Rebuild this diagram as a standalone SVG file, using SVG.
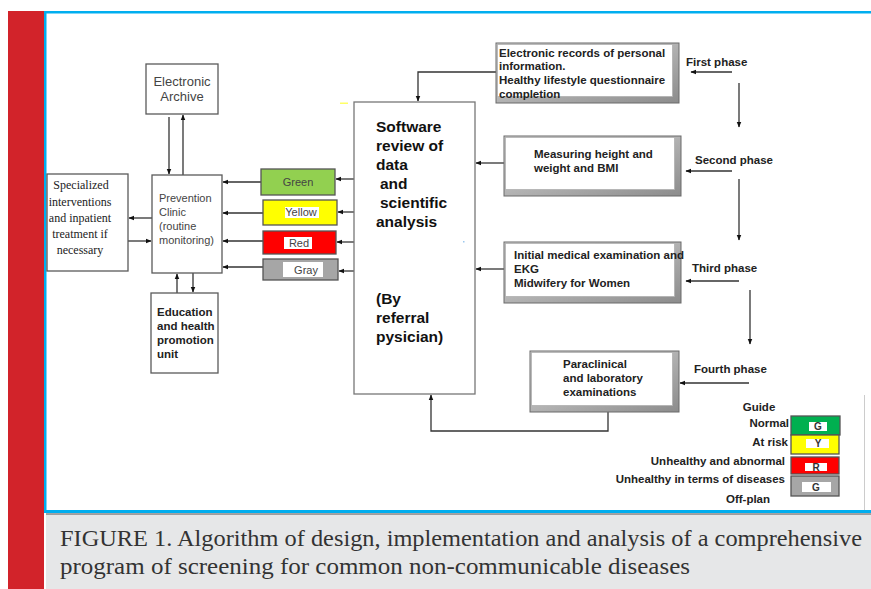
<svg xmlns="http://www.w3.org/2000/svg" width="871" height="589" viewBox="0 0 871 589">
<style>
.box{fill:#fff;stroke:#5a5a5a;stroke-width:1.3}
.bev{fill:url(#bevg);stroke:#6a6a6a;stroke-width:1}
.bevin{fill:#fff;stroke:#b0b0b0;stroke-width:0.8}
.ln{fill:none;stroke:#333;stroke-width:1.3}
.lnh{fill:none;stroke:#333;stroke-width:1.3;marker-end:url(#ah)}
.sans{font-family:"Liberation Sans",Arial,sans-serif}
.t1{font-family:"Liberation Sans",Arial,sans-serif;font-size:11px;fill:#444}
.tb{font-family:"Liberation Sans",Arial,sans-serif;font-size:11.5px;font-weight:bold;fill:#222}
.ts{font-family:"Liberation Serif","Times New Roman",serif;font-size:12px;fill:#222;text-anchor:middle}
.tsw{font-family:"Liberation Sans",Arial,sans-serif;font-size:15.5px;font-weight:bold;fill:#111}
.tl{font-family:"Liberation Sans",Arial,sans-serif;font-size:10px;font-weight:bold;fill:#333;text-anchor:middle}
.cap{font-family:"Liberation Serif","Times New Roman",serif;font-size:24px;fill:#333}
</style>
<defs>
<marker id="ah" viewBox="0 0 10 10" refX="9" refY="5" markerWidth="6" markerHeight="6" markerUnits="userSpaceOnUse" orient="auto">
<path d="M0,1 L10,5 L0,9 Z" fill="#111"/>
</marker>
<linearGradient id="bevg" x1="0" y1="0" x2="1" y2="1">
<stop offset="0" stop-color="#d8d8d8"/>
<stop offset="1" stop-color="#8c8c8c"/>
</linearGradient>
</defs>

<!-- frame -->
<rect x="0" y="0" width="871" height="589" fill="#fff"/>
<rect x="8" y="11" width="36" height="578" fill="#d2232a"/>
<rect x="44" y="11" width="827" height="2.5" fill="#00aeef"/>
<rect x="44" y="11" width="2.5" height="502" fill="#00aeef"/>
<rect x="44" y="510" width="827" height="3" fill="#00aeef"/>
<rect x="46" y="513.5" width="825" height="75.5" fill="#e6e7e8"/>
<line x1="46" y1="514" x2="871" y2="514" stroke="#555" stroke-width="1"/>
<line x1="864.5" y1="395" x2="864.5" y2="510" stroke="#ccc" stroke-width="1"/>
<rect x="340" y="102.5" width="8" height="1.5" fill="#ffff66"/>

<g id="caption">
<text class="cap" x="60" y="546" textLength="802" lengthAdjust="spacingAndGlyphs">FIGURE 1. Algorithm of design, implementation and analysis of a comprehensive</text>
<text class="cap" x="60" y="574" textLength="630" lengthAdjust="spacingAndGlyphs">program of screening for common non-communicable diseases</text>
</g>

<g id="connectors">
<line class="lnh" x1="169" y1="117" x2="169" y2="174"/>
<line class="lnh" x1="183" y1="175" x2="183" y2="115"/>
<line class="lnh" x1="152" y1="218" x2="129" y2="218"/>
<line class="lnh" x1="128" y1="241" x2="151" y2="241"/>
<line class="lnh" x1="177" y1="293" x2="177" y2="274"/>
<line class="lnh" x1="193" y1="273" x2="193" y2="292"/>
<line class="lnh" x1="261" y1="182" x2="223" y2="182"/>
<line class="lnh" x1="263" y1="213" x2="223" y2="213"/>
<line class="lnh" x1="263" y1="241" x2="223" y2="241"/>
<line class="lnh" x1="263" y1="267" x2="223" y2="267"/>
<line class="lnh" x1="354" y1="179" x2="336" y2="179"/>
<line class="lnh" x1="354" y1="212" x2="338" y2="212"/>
<line class="lnh" x1="354" y1="242" x2="337" y2="242"/>
<line class="lnh" x1="354" y1="271" x2="339" y2="271"/>
<polyline class="lnh" points="496,72 418,72 418,101"/>
<line class="lnh" x1="504" y1="163" x2="476" y2="163"/>
<line class="lnh" x1="504" y1="269" x2="476" y2="269"/>
<polyline class="lnh" points="608,412 608,431 431,431 431,395"/>
<line class="lnh" x1="732" y1="72" x2="691" y2="72"/>
<line class="lnh" x1="739" y1="83" x2="739" y2="127"/>
<line class="lnh" x1="732" y1="171" x2="686" y2="171"/>
<line class="lnh" x1="739" y1="179" x2="739" y2="240"/>
<line class="lnh" x1="739" y1="281" x2="686" y2="281"/>
<line class="lnh" x1="750" y1="290" x2="750" y2="344"/>
<line class="lnh" x1="749" y1="383" x2="680" y2="383"/>
</g>

<g id="archive">
<rect class="box" x="146" y="64" width="72" height="50"/>
<text class="sans" x="182" y="86" font-size="13" fill="#444" text-anchor="middle">Electronic</text>
<text class="sans" x="182" y="101" font-size="13" fill="#444" text-anchor="middle">Archive</text>
</g>

<g id="prevention">
<rect class="box" x="152" y="175" width="70" height="98"/>
<text class="t1" x="159" y="202">Prevention</text>
<text class="t1" x="159" y="216">Clinic</text>
<text class="t1" x="159" y="230">(routine</text>
<text class="t1" x="159" y="244">monitoring)</text>
</g>

<g id="specialized">
<rect class="box" x="47" y="174" width="81" height="97"/>
<text class="ts" x="81" y="189">Specialized</text>
<text class="ts" x="80" y="206">interventions</text>
<text class="ts" x="80" y="222">and inpatient</text>
<text class="ts" x="80" y="238">treatment if</text>
<text class="ts" x="80" y="254">necessary</text>
</g>

<g id="education">
<rect class="box" x="151" y="293" width="67" height="80"/>
<text class="tb" x="157" y="316">Education</text>
<text class="tb" x="157" y="330">and health</text>
<text class="tb" x="157" y="344">promotion</text>
<text class="tb" x="157" y="358">unit</text>
</g>

<g id="green">
<rect x="261" y="169" width="74" height="26" fill="#92d050" stroke="#555" stroke-width="1.3"/>
<text class="t1" x="298" y="186" text-anchor="middle" fill="#333">Green</text>
</g>
<g id="yellow">
<rect x="263" y="200" width="74" height="25" fill="#ffff00" stroke="#555" stroke-width="1.3"/>
<rect x="285" y="207" width="34" height="11" fill="#fff"/>
<text class="t1" x="301" y="216" text-anchor="middle" fill="#333">Yellow</text>
</g>
<g id="red">
<rect x="263" y="231" width="73" height="23" fill="#ff0000" stroke="#555" stroke-width="1.3"/>
<rect x="284" y="237" width="28" height="12" fill="#fff"/>
<text class="t1" x="299" y="247" text-anchor="middle" fill="#333">Red</text>
</g>
<g id="gray">
<rect x="263" y="259" width="75" height="21" fill="#a6a6a6" stroke="#555" stroke-width="1.3"/>
<rect x="283" y="262" width="40" height="15" fill="#fff"/>
<text class="t1" x="306" y="274" text-anchor="middle" fill="#333">Gray</text>
</g>

<g id="software">
<rect x="354" y="102" width="121" height="292" fill="#fff" stroke="#777" stroke-width="1.3"/>
<text class="tsw" x="376" y="132">Software</text>
<text class="tsw" x="376" y="151">review of</text>
<text class="tsw" x="376" y="170">data</text>
<text class="tsw" x="380" y="189">and</text>
<text class="tsw" x="380" y="208">scientific</text>
<text class="tsw" x="376" y="227">analysis</text>
<text class="tsw" x="376" y="304">(By</text>
<text class="tsw" x="376" y="323">referral</text>
<text class="tsw" x="376" y="342">pysician)</text>
<rect x="463" y="241" width="1.5" height="1.5" fill="#9cc8ee"/>
</g>

<g id="records">
<rect class="bev" x="496" y="43" width="183" height="60"/>
<rect class="bevin" x="497.5" y="44.5" width="175" height="52"/>
<text class="tb" x="499" y="57">Electronic records of personal</text>
<text class="tb" x="499" y="70">information.</text>
<text class="tb" x="499" y="84">Healthy lifestyle questionnaire</text>
<text class="tb" x="499" y="98">completion</text>
</g>

<g id="measuring">
<rect class="bev" x="504" y="136" width="177" height="60"/>
<rect class="bevin" x="505.5" y="137.5" width="169" height="52"/>
<text class="tb" x="534" y="158">Measuring height and</text>
<text class="tb" x="534" y="172">weight and BMI</text>
</g>

<g id="initial">
<rect class="bev" x="504" y="242" width="177" height="61"/>
<rect class="bevin" x="505.5" y="243.5" width="169" height="53"/>
<text class="tb" x="514" y="259">Initial medical examination and</text>
<text class="tb" x="514" y="273">EKG</text>
<text class="tb" x="514" y="287">Midwifery for Women</text>
</g>

<g id="paraclinical">
<rect class="bev" x="530" y="351" width="149" height="61"/>
<rect class="bevin" x="531.5" y="352.5" width="141" height="53"/>
<text class="tb" x="563" y="368">Paraclinical</text>
<text class="tb" x="563" y="382">and laboratory</text>
<text class="tb" x="563" y="396">examinations</text>
</g>

<g id="phases">
<text class="tb" x="686" y="66">First phase</text>
<text class="tb" x="695" y="164">Second phase</text>
<text class="tb" x="692" y="272">Third phase</text>
<text class="tb" x="694" y="373">Fourth phase</text>
</g>

<g id="legend">
<text class="tb" x="759" y="411" text-anchor="middle">Guide</text>
<text class="tb" x="789" y="427" text-anchor="end">Normal</text>
<text class="tb" x="788" y="446" text-anchor="end">At risk</text>
<text class="tb" x="785" y="465" text-anchor="end">Unhealthy and abnormal</text>
<text class="tb" x="785" y="483" text-anchor="end">Unhealthy in terms of diseases</text>
<text class="tb" x="748" y="503" text-anchor="middle">Off-plan</text>
<rect x="791" y="416" width="49" height="19" fill="#00b050" stroke="#555" stroke-width="1.3"/>
<rect x="809" y="422" width="18" height="9" fill="#fff"/>
<text class="tl" x="818" y="430">G</text>
<rect x="791" y="435" width="48" height="19" fill="#ffff00" stroke="#555" stroke-width="1.3"/>
<rect x="806" y="439" width="23" height="9" fill="#fff"/>
<text class="tl" x="818" y="447">Y</text>
<rect x="791" y="457" width="48" height="17" fill="#ff0000" stroke="#555" stroke-width="1.3"/>
<rect x="805" y="463" width="22" height="8" fill="#fff"/>
<text class="tl" x="816" y="471">R</text>
<rect x="791" y="476" width="48" height="20" fill="#a6a6a6" stroke="#555" stroke-width="1.3"/>
<rect x="802" y="482" width="29" height="10" fill="#fff"/>
<text class="tl" x="816" y="491">G</text>
</g>
</svg>
